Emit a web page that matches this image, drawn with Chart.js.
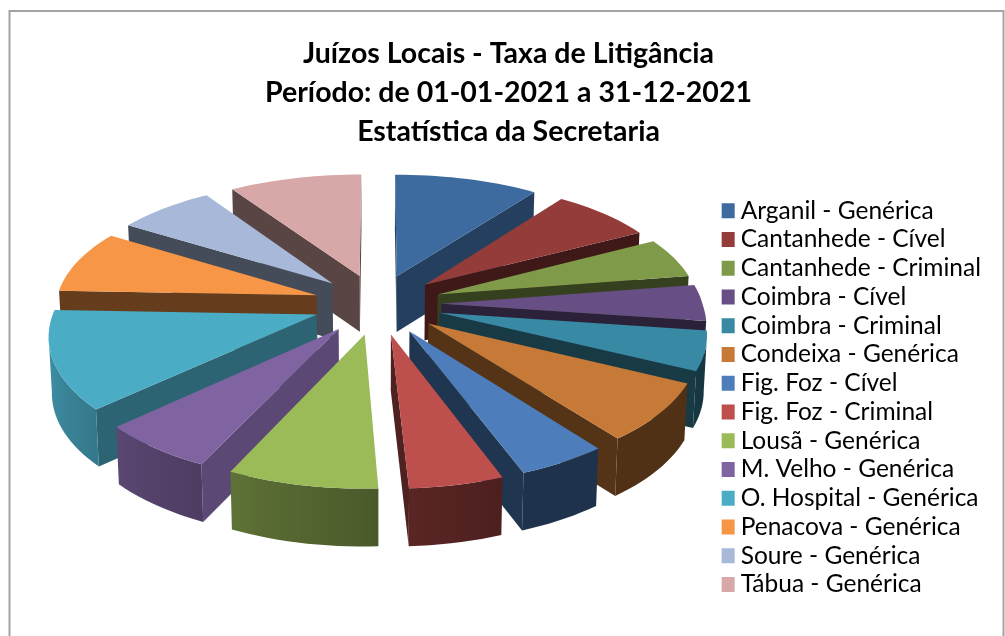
<!DOCTYPE html>
<html lang="pt"><head><meta charset="utf-8">
<script src="https://cdn.jsdelivr.net/npm/chart.js@4"></script>
<style>html,body{margin:0;padding:0;background:#fff;overflow:hidden}canvas{display:block}</style>
</head><body><canvas id="c" width="1005" height="636"></canvas>
<script>
const chartTitle = ['Juízos Locais - Taxa de Litigância','Período: de 01-01-2021 a 31-12-2021','Estatística da Secretaria'];
const categories = ['Arganil - Genérica','Cantanhede - Cível','Cantanhede - Criminal','Coimbra - Cível','Coimbra - Criminal','Condeixa - Genérica','Fig. Foz - Cível','Fig. Foz - Criminal','Lousã - Genérica','M. Velho - Genérica','O. Hospital - Genérica','Penacova - Genérica','Soure - Genérica','Tábua - Genérica'];
const shares = [10.0,7.2,5.3,4.7,5.0,7.4,4.7,4.9,7.8,6.1,12.5,8.3,6.9,9.2];
const colors = ['#3d6a9f','#943c3a','#7f9a48','#674f85','#3889a3','#c77a37','#4d7ebb','#bd4f4c','#9bbb59','#8064a2','#4bacc6','#f79646','#a7b8d8','#d7a8a7'];

const view = {cx:377.5, cy:304, rx:261, ry:123, k:0.14, kBackX:0.10, explode:0.245};
function project(u,v){
  const w=1/(1+view.k*v), wx=v>0?1/(1+view.kBackX*v):w;
  return {x:view.cx+view.rx*u*wx,y:view.cy-view.ry*v*w,w};
}
function lower(p){return {x:view.cx+(p.x-view.cx)*0.99,y:p.y+47+9*p.w};}
function shade(hex,f){const n=parseInt(hex.slice(1),16);return `rgb(${Math.round((n>>16)*f)},${Math.round(((n>>8)&255)*f)},${Math.round((n&255)*f)})`;}
function rimFactor(d){return d<=160?0.4:d>=270?0.9:0.4+(d-160)/110*0.5;}
function faceFactor(d){if(d<40)return 0.6;if(d<200)return 0.42;if(d<215)return 0.72;if(d<250)return 0.58;return 0.41;}
function poly(ctx,pts,fill){ctx.beginPath();pts.forEach((p,i)=>i?ctx.lineTo(p.x,p.y):ctx.moveTo(p.x,p.y));ctx.closePath();ctx.fillStyle=fill;ctx.fill();}
// true when the edge a-b has the top face above it on screen, so its wall is visible
function wallVisible(a,b,m){const sx=b.x-a.x;if(Math.abs(sx)<1e-6)return false;return a.y+(b.y-a.y)*(m.x-a.x)/sx>m.y;}

const explodedPie3D = {
  id:'explodedPie3D',
  beforeDraw(chart){const {ctx}=chart;ctx.save();ctx.strokeStyle='#a3a3a3';ctx.lineWidth=2;ctx.strokeRect(9.5,11,994,640);ctx.restore();},
  beforeDatasetDraw(chart,args){
    const ctx=chart.ctx;
    const order=args.meta.data.map((arc,i)=>{
      const s=arc.startAngle+Math.PI/2,e=arc.endAngle+Math.PI/2,m=(s+e)/2;
      return {i,s,e,ou:view.explode*Math.sin(m),ov:view.explode*Math.cos(m)};
    }).sort((a,b)=>b.ov-a.ov);
    ctx.save();
    for(const sl of order){
      const col=chart.data.datasets[0].backgroundColor[sl.i];
      const apex=project(sl.ou,sl.ov), rim=[];
      const n=Math.max(6,Math.ceil((sl.e-sl.s)/(Math.PI/90)));
      for(let j=0;j<=n;j++){const t=sl.s+(sl.e-sl.s)*j/n;const p=project(sl.ou+Math.sin(t),sl.ov+Math.cos(t));p.deg=t*180/Math.PI;rim.push(p);}
      const first=rim[0], last=rim[n], mid=rim[n>>1];
      if(wallVisible(apex,first,mid)) poly(ctx,[apex,first,lower(first),lower(apex)],shade(col,faceFactor(first.deg)));
      if(wallVisible(apex,last,mid)) poly(ctx,[apex,last,lower(last),lower(apex)],shade(col,faceFactor(last.deg)));
      // outer wall: the part of the rim that runs right-to-left faces the viewer
      const vis=rim.filter((p,j)=>(j<n&&rim[j+1].x<p.x)||(j>0&&p.x<rim[j-1].x));
      if(vis.length>1){
        const x0=vis[0].x,x1=vis[vis.length-1].x;
        const g=ctx.createLinearGradient(x0,0,x1,0);
        vis.forEach(p=>g.addColorStop(Math.min(1,Math.max(0,(p.x-x0)/(x1-x0))),shade(col,rimFactor(p.deg))));
        poly(ctx,[...vis,...vis.map(lower).reverse()],g);
      }
      poly(ctx,[apex,...rim],col);
    }
    ctx.restore();
    return false;
  }
};

new Chart(document.getElementById('c'),{
  type:'pie',
  data:{labels:categories,datasets:[{data:shares,backgroundColor:colors,borderWidth:0}]},
  options:{
    responsive:false,animation:false,
    layout:{padding:{left:26,right:14,top:0,bottom:35}},
    plugins:{
      tooltip:{enabled:false},
      title:{display:true,text:chartTitle,color:'#000',font:{family:'Lato',size:28.5,weight:'bold',lineHeight:1.368},padding:{top:34,bottom:10}},
      legend:{position:'right',align:'end',labels:{color:'#000',font:{family:'Lato',size:24.5},boxWidth:2.5,boxHeight:2.5,padding:4.25,
        generateLabels(chart){
          return Chart.overrides.pie.plugins.legend.labels.generateLabels(chart).map(l=>({...l,strokeStyle:l.fillStyle,lineWidth:12.5}));
        }}}
    }
  },
  plugins:[explodedPie3D]
});
</script></body></html>
